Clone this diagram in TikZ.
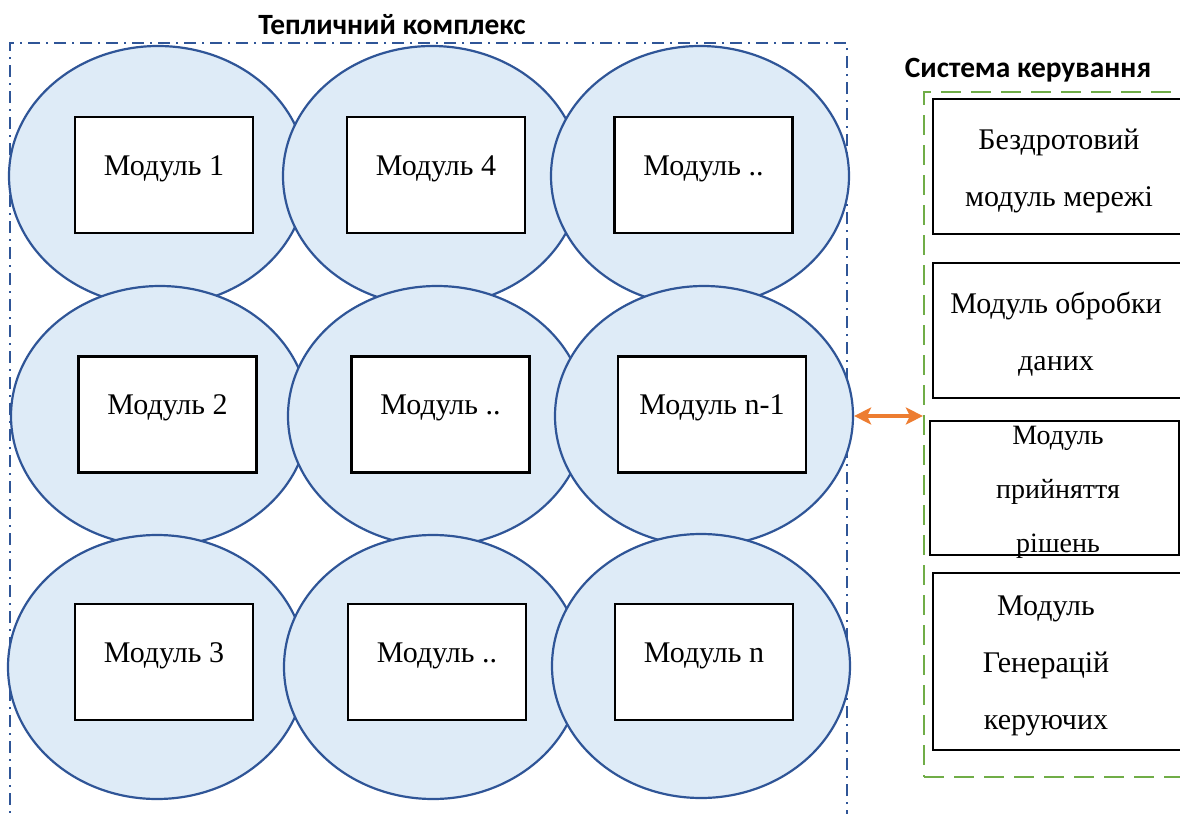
\documentclass[tikz,border=0pt]{standalone}
\usepackage{fontspec}
\setmainfont{Liberation Serif}
\newfontfamily\headfont{Carlito}
\usetikzlibrary{arrows.meta}
\usetikzlibrary{shapes.geometric}
\usetikzlibrary{calc,positioning}

\definecolor{cellfill}{HTML}{DEEBF7}
\definecolor{cellline}{HTML}{2F5597}
\definecolor{ctrlgreen}{HTML}{70AD47}
\definecolor{linkorange}{HTML}{ED7D31}

\newcommand\ctrllines[2][@{}c@{}]{\begin{tabular}{#1}#2\end{tabular}}

\begin{document}
\begin{tikzpicture}[x=0.5pt, y=-0.5pt, >={Stealth[length=8.5pt,width=8.5pt,inset=2pt]},
    cell/.style={ellipse, draw=cellline, fill=cellfill, line width=1.1pt,
        inner sep=0pt, minimum width=149pt, minimum height=#1},
    cell/.default=130pt,
    modbox/.style={draw, fill=white, line width=1.35pt, inner sep=0pt,
        minimum width=#1, minimum height=58pt,
        font=\fontsize{15}{18}\selectfont, text height=8pt, text depth=8pt},
    modbox/.default=89pt,
    ctrlbox/.style={draw, line width=1.35pt, inner sep=0pt,
        minimum width=126pt, minimum height=#1,
        font=\fontsize{15}{28.5}\selectfont},
    ctrlbox/.default=67.5pt,
    heading/.style={font=\headfont\bfseries\fontsize{14.7}{17}\selectfont}
]

%%%

    \useasboundingbox (0,0) rectangle (1180,814);
    \clip (0,0) rectangle (1180,814);

    \node[heading] (complextitle) at (392,25) {Тепличний комплекс};
    \node[heading] (ctrltitle) at (1028,70) {Система керування};

    \node[draw=cellline, line width=1pt, dash pattern=on 6pt off 3pt on 1pt off 3pt,
        minimum width=418.5pt, minimum height=400pt] (complex) at (428.5,443) {};

    % greenhouse cells, row by row
    \node[cell] (c1) at (158,176) {};
    \node[cell] (c4) at (432,176) {};
    \node[cell] (c7) at (700,176) {};
    \node[cell] (c2) at (160,416) {};
    \node[cell] (c5) at (437,416) {};
    \node[cell] (c8) at (704,416) {};
    \node[cell=132pt] (c3) at (157,667) {};
    \node[cell=132pt] (c6) at (433,667) {};
    \node[cell=132pt] (c9) at (701,666) {};

    \node[modbox] (m1) at (164,175) {Модуль 1};
    \node[modbox] (m4) at (436,175) {Модуль 4};
    \node[modbox] (m7) at (703.5,175) {Модуль ..};
    \node[modbox] (m2) at (167.5,414.5) {Модуль 2};
    \node[modbox] (m5) at (440.5,414.5) {Модуль ..};
    \node[modbox=94pt] (m8) at (712,414.5) {Модуль n-1};
    \node[modbox] (m3) at (164,662) {Модуль 3};
    \node[modbox] (m6) at (437,662) {Модуль ..};
    \node[modbox] (m9) at (704,662) {Модуль n};

    % control system
    \node[draw=ctrlgreen, line width=1.1pt, dash pattern=on 10pt off 5pt,
        minimum width=138pt, minimum height=342.5pt] (ctrl) at (1062,434.5) {};

    \node[ctrlbox] (net) at (1059,166.5) {\ctrllines{Бездротовий\\модуль мережі}};
    \node[ctrlbox] (proc) at (1059,330.5) {\ctrllines[@{}c@{\hspace{3pt}}]{Модуль обробки\\даних}};
    \node[ctrlbox=67pt, minimum width=124.5pt, inner ysep=-7pt,
        font=\fontsize{14}{27}\selectfont] (decide) at (1054.5,488)
        {\ctrllines[@{\hspace{3.5pt}}c@{}]{Модуль\\прийняття\\рішень}};
    \node[ctrlbox=88.5pt] (gen) at (1059,661.5)
        {\ctrllines[@{}c@{\hspace{13pt}}]{Модуль\\Генерацій\\керуючих}};

    \draw[<->, linkorange, line width=1.7pt] (c8.east) -- (c8.east -| ctrl.west);

\end{tikzpicture}
\end{document}
